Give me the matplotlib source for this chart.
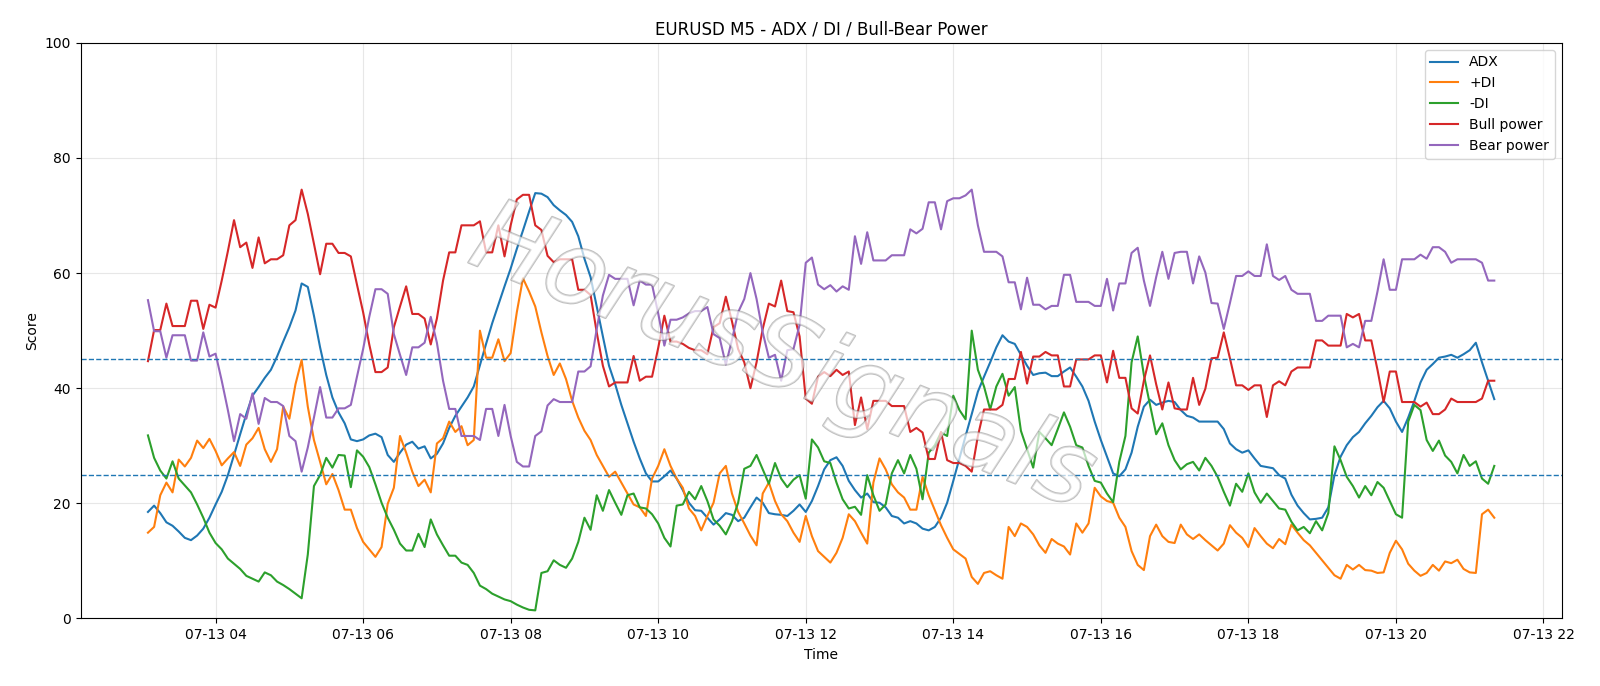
import numpy as np
import pandas as pd
import matplotlib
matplotlib.use("Agg")
import matplotlib.pyplot as plt
import matplotlib.dates as mdates
import matplotlib.patheffects as pe

start_time = "2025-07-13 03:05"
n_bars = 220

adx = [18.5, 19.6, 18.3, 16.7, 16.1, 15.1, 14.0, 13.6, 14.4, 15.6, 17.5, 19.8, 22.0, 24.9, 28.4, 32.0, 35.5, 38.7, 40.2, 41.8,
       43.2, 45.5, 48.1, 50.6, 53.5, 58.2, 57.6, 52.6, 47.1, 42.3, 38.4, 35.8, 33.9, 31.1, 30.8, 31.1, 31.8,
       32.1, 31.5, 28.4, 27.2, 28.8, 30.2, 30.7, 29.5, 29.9, 27.8, 28.6, 30.4, 33.1, 35.2, 36.8, 38.4, 40.3, 44.0, 47.7,
       51.3, 54.5, 57.7, 60.8, 64.2, 67.4, 70.7, 73.9, 73.8, 73.2, 71.8, 70.9, 70.1, 68.9, 66.4, 62.5, 59.3, 54.2, 49.0,
       43.9, 40.7, 37.1, 33.9, 30.7, 27.8, 25.2, 23.8, 23.8, 24.7, 25.7, 24.3, 22.3, 20.1, 18.8, 18.7, 17.5, 16.3, 17.2,
       18.3, 18.0, 16.9, 17.5, 19.3, 21.0, 20.1, 18.3, 18.1, 18.0, 17.8, 18.7, 19.8, 18.5, 20.4, 23.0, 25.9, 27.5,
       28.0, 26.5, 23.9, 22.3, 21.0, 21.7, 20.2, 20.1, 19.3, 17.8, 17.5, 16.5, 16.9, 16.5, 15.6, 15.3, 15.9, 17.5, 20.1,
       23.9, 27.8, 31.7, 35.5, 39.4, 42.0, 44.5, 47.1, 49.2, 48.1, 47.7, 45.8, 43.9, 42.3, 42.6, 42.7, 42.1, 42.1, 42.9,
       43.6, 42.0, 40.3, 37.8, 34.2, 31.0, 28.1, 25.2, 24.7, 25.9, 28.8, 33.3, 36.8, 38.0, 37.1, 37.5, 37.8, 37.6, 36.2,
       35.2, 34.9, 34.2, 34.2, 34.2, 34.2, 32.9, 30.4, 29.4, 28.8, 29.2, 27.8, 26.5, 26.3, 26.1, 24.9, 24.3, 21.5,
       19.6, 18.3, 17.2, 17.3, 17.5, 19.3, 24.9, 28.1, 30.1, 31.5, 32.4, 33.9, 35.2, 36.7, 37.8, 36.5, 34.2, 32.4, 34.9,
       37.8, 41.0, 43.2, 44.2, 45.3, 45.5, 45.8, 45.3, 45.9, 46.6, 47.9, 44.5, 41.3, 38.1]

plus_di = [14.9, 15.9, 21.4, 23.6, 21.9, 27.6, 26.4, 27.9, 30.9, 29.6, 31.2, 29.1, 26.6, 27.8, 28.9, 26.5, 30.2, 31.3, 33.1, 29.4,
           27.2, 29.4, 36.8, 34.7, 40.7, 44.9, 36.8, 31.0, 27.2, 23.3, 25.1, 22.3, 18.9, 18.9, 15.7, 13.3, 12.0,
           10.7, 12.4, 19.9, 22.7, 31.7, 28.8, 25.5, 23.0, 24.1, 21.9, 30.4, 31.3, 34.2, 32.4, 33.4, 30.1, 31.0, 50.0, 45.3,
           45.3, 48.5, 44.7, 46.1, 53.2, 59.1, 56.8, 54.2, 49.7, 45.6, 42.3, 44.3, 41.6, 37.8, 34.9, 32.6, 31.0, 28.4, 26.5,
           24.6, 25.5, 23.6, 21.7, 19.8, 19.3, 17.8, 24.3, 26.5, 29.4, 26.5, 24.3, 22.7, 19.1, 17.8, 15.3, 17.8, 20.1, 25.2,
           26.5, 21.7, 18.5, 16.5, 14.4, 12.7, 21.7, 23.6, 20.4, 18.1, 16.9, 14.9, 13.3, 17.8, 14.3, 11.7, 10.7, 9.7,
           11.4, 14.0, 18.1, 16.9, 14.9, 13.0, 23.6, 27.8, 25.9, 23.3, 21.9, 21.0, 18.9, 18.9, 24.6, 21.4, 18.8, 16.2, 14.0,
           12.0, 11.2, 10.4, 7.2, 6.0, 7.9, 8.2, 7.5, 6.9, 15.9, 14.3, 16.5, 15.9, 14.6, 12.7, 11.4, 13.8, 13.0, 12.5,
           11.1, 16.5, 14.9, 16.5, 22.7, 21.2, 20.4, 20.1, 17.5, 15.9, 11.7, 9.3, 8.4, 14.3, 16.3, 14.3, 13.3, 13.1, 16.3,
           14.6, 13.8, 14.6, 13.6, 12.7, 11.8, 13.0, 16.2, 14.9, 14.0, 12.4, 15.7, 14.3, 13.0, 12.2, 13.8, 12.9, 16.3,
           14.9, 13.6, 12.7, 11.4, 10.1, 8.8, 7.5, 6.9, 9.3, 8.5, 9.3, 8.4, 8.3, 7.9, 8.0, 11.4, 13.5, 12.0, 9.5,
           8.3, 7.4, 7.9, 9.3, 8.3, 9.9, 9.6, 10.2, 8.6, 8.0, 7.9, 18.1, 18.9, 17.5]

minus_di = [31.8, 27.9, 25.7, 24.3, 27.3, 24.3, 23.1, 21.9, 19.8, 17.5, 14.9, 13.1, 12.0, 10.4, 9.5, 8.6, 7.4, 6.9, 6.4, 8.0,
            7.5, 6.4, 5.8, 5.1, 4.3, 3.5, 11.1, 23.0, 24.9, 27.9, 26.2, 28.4, 28.3, 22.8, 29.2, 28.1, 26.3,
            23.3, 20.1, 17.5, 15.4, 13.0, 11.8, 11.8, 14.7, 12.4, 17.2, 14.6, 12.7, 10.9, 10.9, 9.7, 9.3, 7.9, 5.7, 5.1,
            4.3, 3.8, 3.3, 3.0, 2.4, 1.9, 1.5, 1.4, 7.9, 8.2, 10.1, 9.3, 8.8, 10.4, 13.3, 17.5, 15.4, 21.4, 18.7,
            22.3, 20.1, 18.0, 21.4, 21.7, 19.3, 19.1, 18.1, 16.5, 14.0, 12.5, 19.6, 19.8, 22.0, 20.7, 23.0, 20.4, 17.2, 16.1,
            14.6, 16.9, 20.1, 26.0, 26.5, 28.4, 25.9, 23.4, 27.0, 24.3, 22.8, 24.1, 24.9, 20.8, 31.1, 29.7, 27.3, 27.0,
            23.6, 20.7, 19.1, 19.4, 18.0, 24.9, 21.4, 18.7, 19.8, 25.2, 27.5, 25.2, 28.4, 26.0, 20.7, 28.8, 30.1, 32.3, 31.7,
            38.7, 36.2, 34.6, 50.0, 43.2, 40.3, 36.3, 40.3, 42.5, 38.7, 40.2, 32.6, 29.4, 26.2, 32.4, 31.3, 30.1, 32.9, 35.8,
            33.3, 30.1, 29.7, 26.5, 23.9, 23.6, 21.7, 20.2, 27.2, 31.7, 44.5, 49.0, 42.3, 37.1, 32.0, 33.9, 30.1, 27.5, 25.9,
            26.8, 27.2, 25.7, 27.9, 26.5, 24.6, 22.0, 19.6, 23.4, 22.0, 25.2, 21.9, 20.1, 21.7, 20.4, 19.1, 18.9, 16.8,
            15.3, 15.9, 14.8, 16.9, 15.3, 18.3, 29.9, 27.5, 24.6, 23.0, 21.0, 23.0, 21.4, 23.7, 22.7, 20.4, 18.1, 17.5, 34.2,
            37.1, 36.2, 31.0, 29.1, 30.9, 28.3, 27.2, 25.2, 28.4, 26.5, 27.3, 24.3, 23.4, 26.5]

bull_power = [44.7, 50.1, 50.1, 54.7, 50.8, 50.8, 50.8, 55.2, 55.2, 50.3, 54.5, 54.0, 58.7, 63.8, 69.2, 64.5, 65.3, 60.9, 66.2, 61.7,
              62.4, 62.4, 63.1, 68.3, 69.2, 74.5, 70.3, 65.1, 59.8, 65.1, 65.1, 63.5, 63.5, 62.9, 58.0, 53.2, 47.6,
              42.8, 42.8, 43.6, 50.6, 54.2, 57.7, 52.9, 52.9, 52.1, 47.6, 52.1, 58.7, 63.6, 63.6, 68.3, 68.3, 68.3, 69.0, 63.6,
              63.6, 68.3, 62.9, 68.3, 72.8, 73.6, 73.6, 68.3, 67.5, 63.0, 61.9, 62.4, 62.4, 62.4, 57.1, 57.1, 56.2, 49.7, 43.9,
              40.3, 41.0, 41.0, 41.0, 45.6, 41.3, 42.0, 42.0, 47.0, 52.6, 48.1, 48.1, 47.7, 47.0, 46.6, 46.6, 45.9, 50.6, 51.3,
              55.9, 51.6, 46.8, 44.5, 40.0, 44.5, 50.3, 54.7, 54.2, 58.7, 53.4, 53.2, 49.0, 38.2, 37.3, 42.0, 42.8, 42.1,
              43.2, 42.3, 42.9, 33.6, 38.4, 32.9, 37.8, 37.8, 37.8, 36.9, 36.9, 36.9, 32.4, 33.1, 32.3, 27.7, 27.7, 32.4, 27.5,
              27.0, 27.0, 26.5, 25.5, 31.7, 36.3, 36.3, 36.3, 37.1, 41.6, 41.6, 46.3, 40.8, 45.5, 45.5, 46.3, 45.7, 45.7, 40.3,
              40.3, 45.0, 45.0, 45.0, 45.7, 45.7, 41.0, 46.5, 41.8, 41.8, 36.5, 35.6, 41.3, 45.7, 40.7, 36.3, 41.0, 36.5, 36.3,
              36.3, 41.8, 37.1, 39.9, 45.2, 45.3, 49.7, 45.2, 40.5, 40.5, 39.7, 40.5, 40.5, 35.0, 40.5, 41.2, 40.5, 42.9,
              43.6, 43.6, 43.6, 48.3, 48.3, 47.4, 47.4, 47.4, 52.9, 52.3, 52.9, 48.3, 48.3, 43.2, 37.6, 42.9, 42.9, 37.6, 37.6,
              37.6, 36.8, 37.5, 35.5, 35.5, 36.3, 38.2, 37.6, 37.6, 37.6, 37.6, 38.2, 41.3, 41.3]

bear_power = [55.3, 49.9, 49.9, 45.3, 49.2, 49.2, 49.2, 44.8, 44.8, 49.7, 45.5, 46.0, 41.3, 36.2, 30.8, 35.5, 34.7, 39.1, 33.8, 38.3,
              37.6, 37.6, 36.9, 31.7, 30.8, 25.5, 29.7, 34.9, 40.2, 34.9, 34.9, 36.5, 36.5, 37.1, 42.0, 46.8, 52.4,
              57.2, 57.2, 56.4, 49.4, 45.8, 42.3, 47.1, 47.1, 47.9, 52.4, 47.9, 41.3, 36.4, 36.4, 31.7, 31.7, 31.7, 31.0, 36.4,
              36.4, 31.7, 37.1, 31.7, 27.2, 26.4, 26.4, 31.7, 32.5, 37.0, 38.1, 37.6, 37.6, 37.6, 42.9, 42.9, 43.8, 50.3, 56.1,
              59.7, 59.0, 59.0, 59.0, 54.4, 58.7, 58.0, 58.0, 53.0, 47.4, 51.9, 51.9, 52.3, 53.0, 53.4, 53.4, 54.1, 49.4, 48.7,
              44.1, 48.4, 53.2, 55.5, 60.0, 55.5, 49.7, 45.3, 45.8, 41.3, 46.6, 46.8, 51.0, 61.8, 62.7, 58.0, 57.2, 57.9,
              56.8, 57.7, 57.1, 66.4, 61.6, 67.1, 62.2, 62.2, 62.2, 63.1, 63.1, 63.1, 67.6, 66.9, 67.7, 72.3, 72.3, 67.6, 72.5,
              73.0, 73.0, 73.5, 74.5, 68.3, 63.7, 63.7, 63.7, 62.9, 58.4, 58.4, 53.7, 59.2, 54.5, 54.5, 53.7, 54.3, 54.3, 59.7,
              59.7, 55.0, 55.0, 55.0, 54.3, 54.3, 59.0, 53.5, 58.2, 58.2, 63.5, 64.4, 58.7, 54.3, 59.3, 63.7, 59.0, 63.5, 63.7,
              63.7, 58.2, 62.9, 60.1, 54.8, 54.7, 50.3, 54.8, 59.5, 59.5, 60.3, 59.5, 59.5, 65.0, 59.5, 58.8, 59.5, 57.1,
              56.4, 56.4, 56.4, 51.7, 51.7, 52.6, 52.6, 52.6, 47.1, 47.7, 47.1, 51.7, 51.7, 56.8, 62.4, 57.1, 57.1, 62.4, 62.4,
              62.4, 63.2, 62.5, 64.5, 64.5, 63.7, 61.8, 62.4, 62.4, 62.4, 62.4, 61.8, 58.7, 58.7]

levels = [25, 45]
title = "EURUSD M5 - ADX / DI / Bull-Bear Power"
watermark = "HorusSignals"

times = pd.date_range(start_time, periods=n_bars, freq="5min")

fig = plt.figure(figsize=(16, 6.86), dpi=100)
ax = fig.add_axes([0.0504, 0.0985, 0.9256, 0.839])

ax.plot(times, adx, label="ADX", color="C0", lw=1.5)
ax.plot(times, plus_di, label="+DI", color="C1", lw=1.5)
ax.plot(times, minus_di, label="-DI", color="C2", lw=1.5)
ax.plot(times, bull_power, label="Bull power", color="C3", lw=1.5)
ax.plot(times, bear_power, label="Bear power", color="C4", lw=1.5)
for lv in levels:
    ax.axhline(lv, color="C0", ls="--", lw=1.0)

ax.set_ylim(0, 100)
ax.xaxis.set_major_locator(mdates.HourLocator(byhour=range(0, 24, 2)))
ax.xaxis.set_major_formatter(mdates.DateFormatter("%m-%d %H"))
ax.grid(True, color="#b0b0b0", alpha=0.3, lw=0.8)
ax.set_title(title, fontsize=12)
ax.set_xlabel("Time")
ax.set_ylabel("Score")
ax.legend(loc="upper right")

ax.text(0.474, 0.45, watermark, transform=ax.transAxes, fontsize=73, fontstyle="italic",
        rotation=-22, ha="center", va="center", color="white", alpha=0.45, zorder=5,
        path_effects=[pe.Stroke(linewidth=1.4, foreground=(0.45, 0.45, 0.45)), pe.Normal()])

fig.savefig("out.png", dpi=100)
